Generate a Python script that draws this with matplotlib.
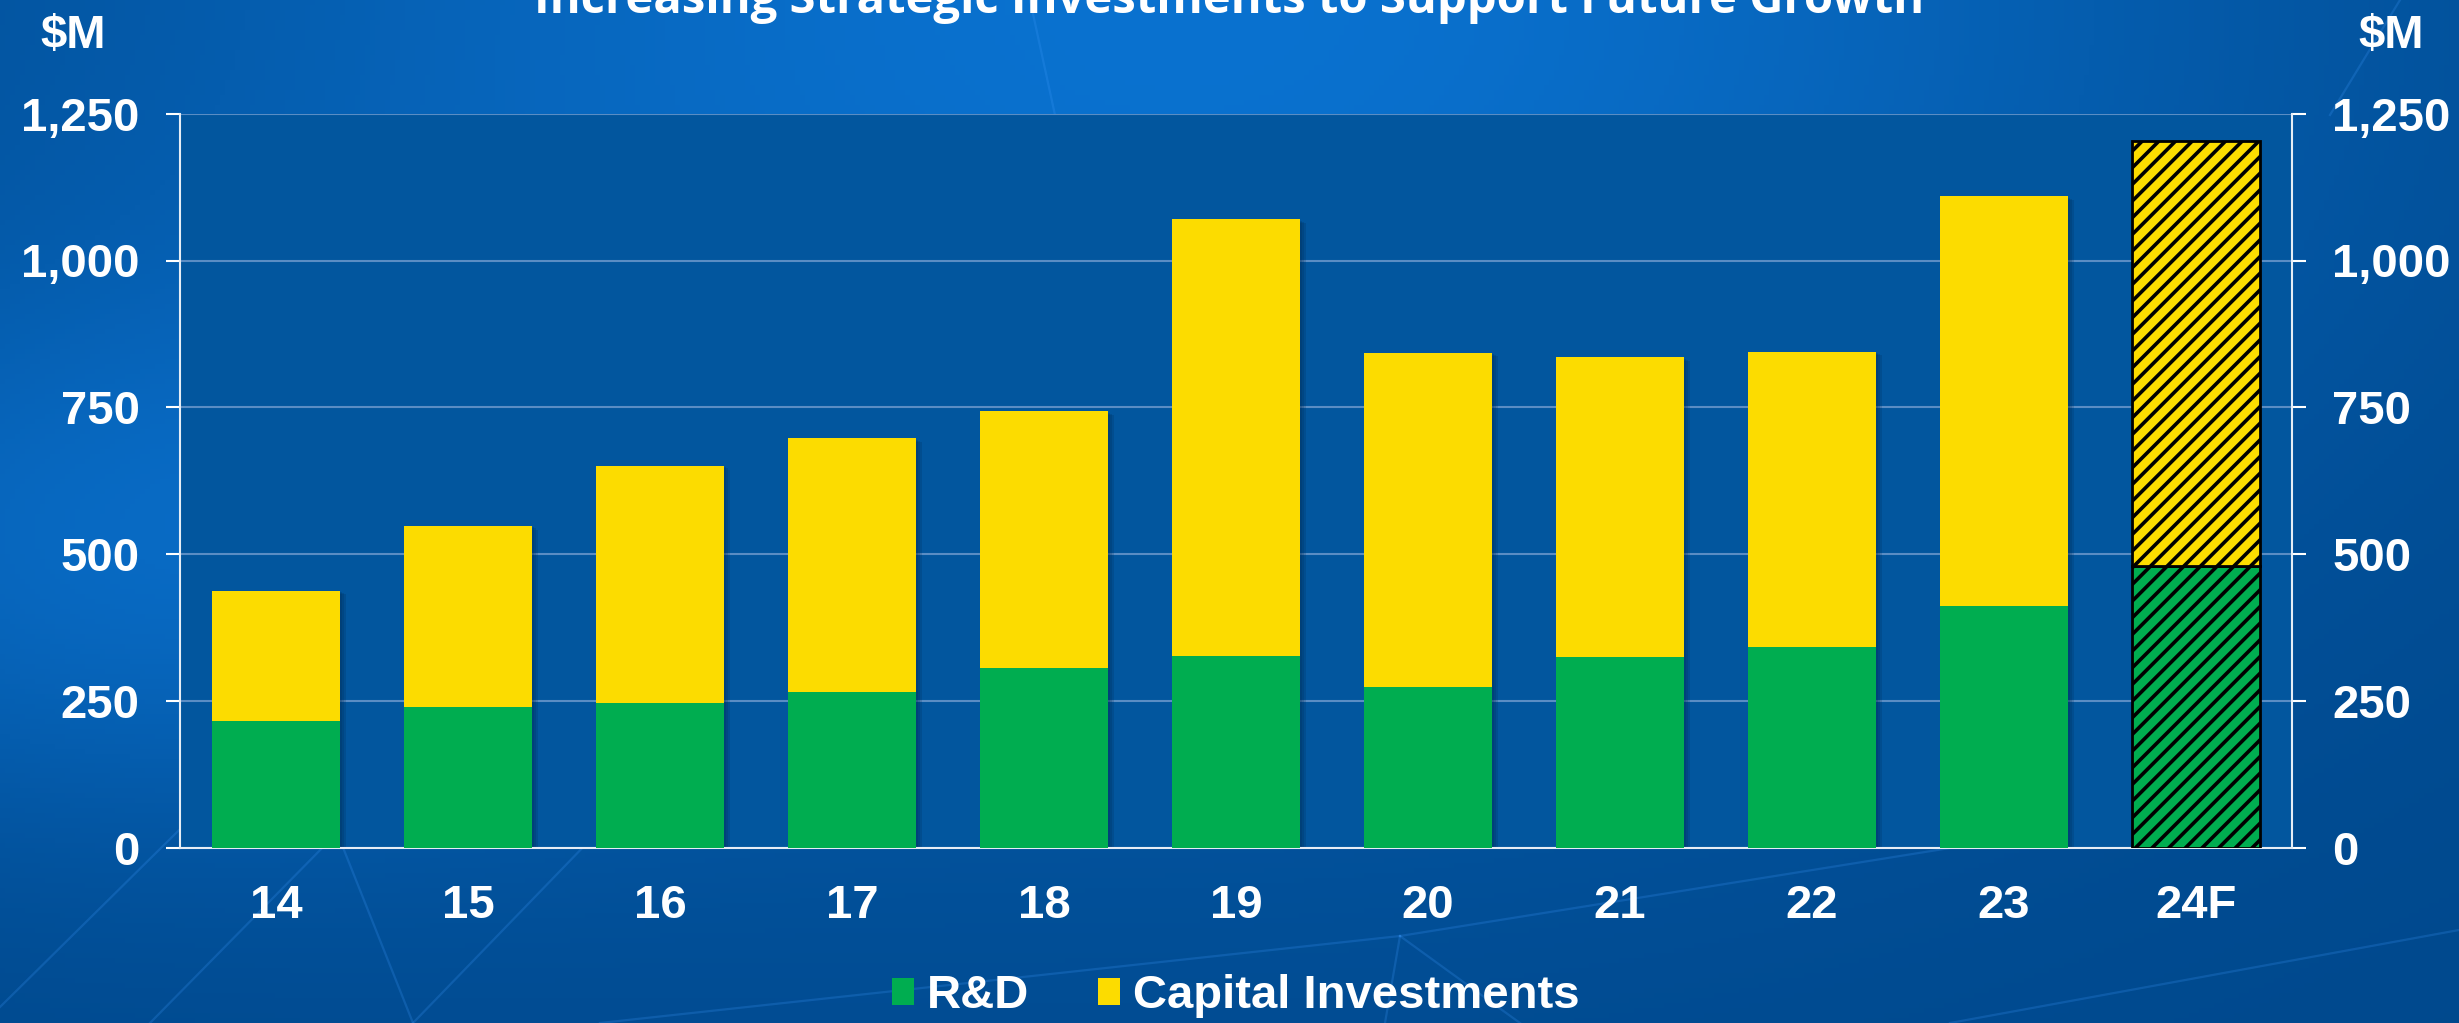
import numpy as np
import matplotlib.pyplot as plt
from matplotlib.patches import Patch
from matplotlib.ticker import StrMethodFormatter
from matplotlib.transforms import offset_copy

# spend per fiscal year, $M
years = ['14', '15', '16', '17', '18', '19', '20', '21', '22', '23', '24F']
rd = [216, 240, 247, 265, 306, 326, 274, 324, 342, 412, 480]
capex = [222, 308, 403, 432, 437, 744, 569, 511, 503, 697, 724]
is_forecast = [False] * 10 + [True]
yticks = [0, 250, 500, 750, 1000, 1250]

GREEN = '#00ad50'
YELLOW = '#fcdc00'
PANEL = '#02569e'
WHITE = 'white'
plt.rcParams['hatch.linewidth'] = 2.6

W, H = 2459, 1023
fig = plt.figure(figsize=(W / 100, H / 100), dpi=100)

# blue slide background with a soft glow and a few faint network lines
bg = fig.add_axes([0, 0, 1, 1], zorder=-5)
yy, xx = np.mgrid[0:1:205j, 0:1:492j]
glow = np.exp(-((xx - 0.48) ** 2 / 0.20 + (yy - 0.0) ** 2 / 0.45))
glow2 = 0.6 * np.exp(-((xx - 0.05) ** 2 / 0.05 + (yy - 0.55) ** 2 / 0.08))
g = np.clip(glow + glow2, 0, 1)[..., None]
dark = np.array([0, 72, 140]) / 255
light = np.array([10, 114, 208]) / 255
bg.imshow(dark + (light - dark) * g, extent=[0, W, H, 0], aspect='auto')
net = [((0, 1007), (250, 760)), ((600, 1023), (1400, 936)), ((1400, 936), (2000, 840)),
       ((1400, 936), (1385, 1023)), ((1400, 936), (1520, 1023)), ((413, 1023), (340, 840)),
       ((413, 1023), (590, 840)), ((150, 1023), (330, 840)), ((1030, 0), (1055, 115)),
       ((2330, 115), (2400, 0)), ((2459, 930), (1950, 1023))]
for (x0, y0), (x1, y1) in net:
    bg.plot([x0, x1], [y0, y1], color='#3f9bff', alpha=0.22, lw=1.6)
bg.set_xlim(0, W)
bg.set_ylim(H, 0)
bg.axis('off')

ax = fig.add_axes([180 / W, 1 - 847.7 / H, 2112 / W, 734 / H])
ax.set_facecolor(PANEL)
x = np.arange(len(years))
totals = np.array(rd) + np.array(capex)
width = 0.667

# soft drop shadow behind the actual bars
for k, a in [(2, 0.2), (4, 0.2), (6, 0.2)]:
    tr = offset_copy(ax.transData, fig=fig, x=k, y=-k * 0.6, units='dots')
    ax.bar(x[:-1], totals[:-1], width, color='#002a55', alpha=a, transform=tr,
           zorder=2, linewidth=0)

for i in x:
    if is_forecast[i]:
        ax.bar(i, rd[i], width, color=GREEN, edgecolor='black', hatch='//',
               linewidth=2, zorder=3)
        ax.bar(i, capex[i], width, bottom=rd[i], color=YELLOW, edgecolor='black',
               hatch='//', linewidth=2, zorder=3)
    else:
        ax.bar(i, rd[i], width, color=GREEN, linewidth=0, zorder=3)
        ax.bar(i, capex[i], width, bottom=rd[i], color=YELLOW, linewidth=0, zorder=3)

ax.set_xlim(-0.5, len(years) - 0.5)
ax.set_ylim(0, 1250)
ax.set_xticks(x)
ax.set_xticklabels(years)
ax.set_yticks(yticks)
ax.yaxis.set_major_formatter(StrMethodFormatter('{x:,.0f}'))
ax.yaxis.grid(True, color='#5a8dc4', linewidth=1.5)
ax.set_axisbelow(True)

font = dict(family='Liberation Sans', weight='bold')
ax.tick_params(axis='x', length=0, pad=26, labelsize=34, labelcolor=WHITE)
ax.tick_params(axis='y', left=True, right=True, labelleft=True, labelright=True,
               length=10, width=1.5, color=WHITE, labelsize=34, labelcolor=WHITE, pad=19)
for lab in ax.get_xticklabels():
    lab.set_fontfamily('Liberation Sans')
    lab.set_fontweight('bold')
for t in ax.yaxis.get_major_ticks():
    for lab in (t.label1, t.label2):
        lab.set_fontfamily('Liberation Sans')
        lab.set_fontweight('bold')

ax.spines['top'].set_visible(False)
for side in ['left', 'right', 'bottom']:
    ax.spines[side].set_color('#e6edf5')
    ax.spines[side].set_linewidth(1.5)

fig.text(0.4998, 1 - 13 / H, 'Increasing Strategic Investments to Support Future Growth',
         ha='center', va='baseline', color=WHITE, fontsize=34, family='Open Sans',
         weight='bold')
fig.text(73 / W, 1 - 36 / H, r'\$M', ha='center', va='center', color=WHITE,
         fontsize=34, **font)
fig.text(2391 / W, 1 - 36 / H, r'\$M', ha='center', va='center', color=WHITE,
         fontsize=34, **font)

handles = [Patch(facecolor=GREEN), Patch(facecolor=YELLOW)]
fig.legend(handles, ['R&D', 'Capital Investments'], loc='center',
           bbox_to_anchor=(1236 / W, 1 - 996 / H), ncol=2, frameon=False,
           handlelength=0.47, handleheight=0.51, handletextpad=0.28,
           columnspacing=1.45, borderpad=0, labelcolor=WHITE,
           prop=dict(family='Liberation Sans', weight='bold', size=34))

fig.savefig('out.png', dpi=100)
